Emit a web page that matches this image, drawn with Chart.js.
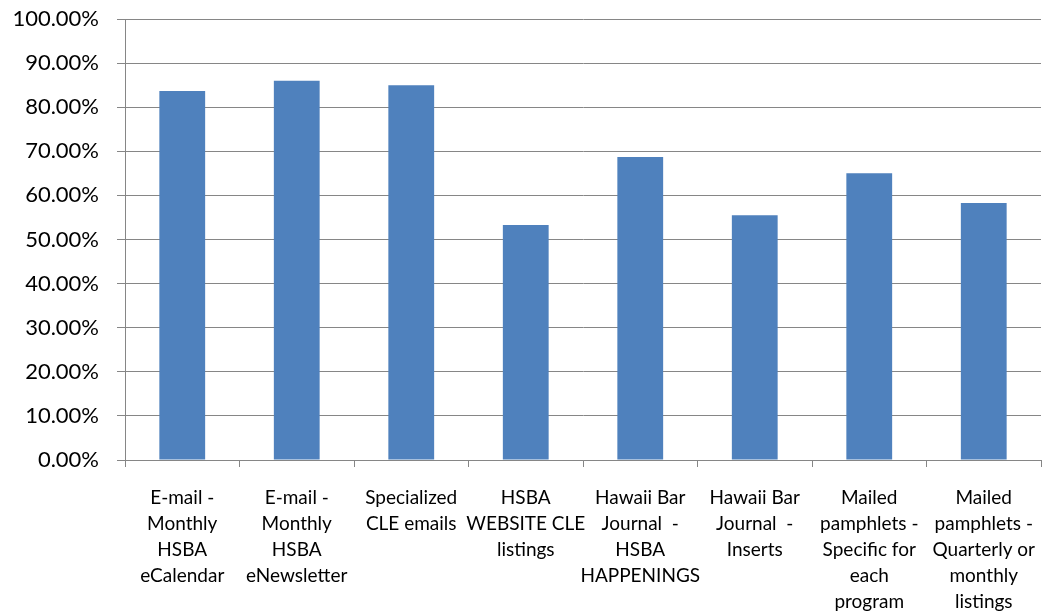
<!DOCTYPE html>
<html>
<head>
<meta charset="utf-8">
<script src="https://cdn.jsdelivr.net/npm/chart.js@4"></script>
<style>
  body { margin: 0; background: #fff; }
  #wrap { width: 1043px; height: 614px; }
</style>
</head>
<body>
<div id="wrap"><canvas id="myChart"></canvas></div>
<script>
const labels = [
    ["E-mail -", "Monthly", "HSBA", "eCalendar"],
    ["E-mail -", "Monthly", "HSBA", "eNewsletter"],
    ["Specialized", "CLE emails"],
    ["HSBA", "WEBSITE CLE", "listings"],
    ["Hawaii Bar", "Journal  -", "HSBA", "HAPPENINGS"],
    ["Hawaii Bar", "Journal  -", "Inserts"],
    ["Mailed", "pamphlets -", "Specific for", "each", "program"],
    ["Mailed", "pamphlets -", "Quarterly or", "monthly", "listings"]
]
const values = [83.7, 86.0, 85.0, 53.3, 68.7, 55.5, 65.0, 58.3]
const yTicks = [0, 10, 20, 30, 40, 50, 60, 70, 80, 90, 100]

const gridColor = '#868686'
const fontFamily = 'Lato, "Open Sans", sans-serif'

const data = {
    labels: labels,
    datasets: [{
        data: values,
        backgroundColor: '#4F81BD',
        barPercentage: 0.4,
        categoryPercentage: 1.0
    }]
}

const config = {
    type: 'bar',
    data: data,
    options: {
        responsive: true,
        maintainAspectRatio: false,
        animation: false,
        layout: { padding: { top: 19, right: 2, left: 0, bottom: 0 } },
        plugins: {
            legend: { display: false },
            tooltip: { enabled: false }
        },
        scales: {
            x: {
                grid: {
                    offset: true,
                    drawOnChartArea: false,
                    color: gridColor,
                    tickLength: 7
                },
                border: { color: gridColor },
                ticks: {
                    color: '#000',
                    maxRotation: 0,
                    autoSkip: false,
                    padding: 18,
                    font: { family: fontFamily, size: 19, lineHeight: 26 / 19 }
                },
                afterFit: function (scale) {
                    scale.height = 154
                    scale.paddingLeft = 0
                    scale.paddingRight = 0
                }
            },
            y: {
                min: 0,
                max: 100,
                afterBuildTicks: function (scale) {
                    scale.ticks = yTicks.map(v => ({ value: v }))
                },
                grid: {
                    color: gridColor,
                    tickLength: 8
                },
                border: { color: gridColor },
                ticks: {
                    color: '#000',
                    padding: 18,
                    font: { family: fontFamily, size: 22 },
                    callback: v => v.toFixed(2) + '%'
                },
                afterFit: function (scale) {
                    scale.width = 125
                    scale.paddingTop = 0
                    scale.paddingBottom = 0
                }
            }
        }
    }
}

const myChart = new Chart(document.getElementById("myChart"), config)
</script>
</body>
</html>
